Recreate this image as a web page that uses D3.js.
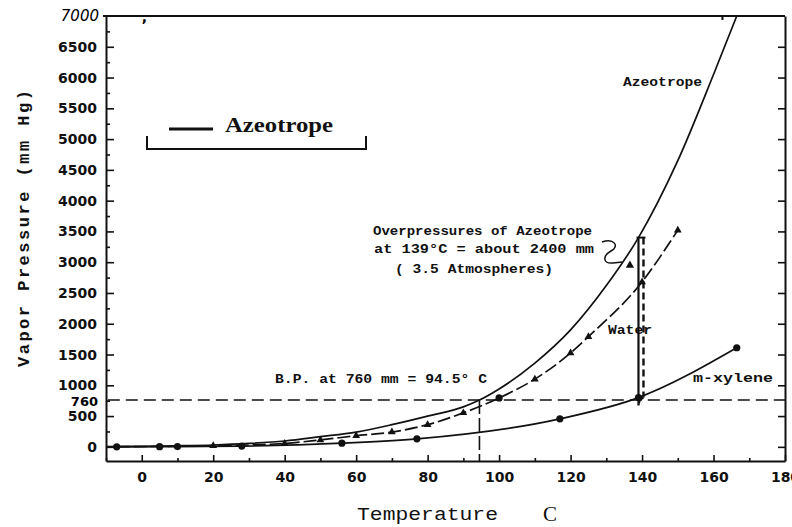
<!DOCTYPE html>
<html>
<head>
<meta charset="utf-8">
<script src="https://cdn.jsdelivr.net/npm/d3@7"></script>
<style>
  html, body { margin: 0; padding: 0; background: #fff; }
  svg { display: block; }
</style>
</head>
<body>
<div id="chart"></div>
<script>
// Azeotrope vapor pressure (solid line, no markers)
const azeoTemp = [-10, 0, 10, 20, 30, 40, 50, 60, 70, 80, 90, 94.5, 100, 110, 120, 130, 139, 150, 160, 166.5];
const azeoPres = [5, 8, 17, 30, 55, 95, 165, 240, 360, 500, 650, 760, 940, 1360, 1900, 2620, 3400, 4650, 6050, 7000];

// Water (dashed line, triangles; the 100 C point is drawn as a dot)
const waterTemp = [-7, 20, 40, 50, 60, 70, 80, 90, 100, 110, 120, 125, 140, 150];
const waterPres = [3, 18, 55, 113, 180, 240, 360, 552, 795, 1100, 1525, 1790, 2680, 3520];
const waterMark = ['', 'tri', 'tri', 'tri', 'tri', 'tri', 'tri', 'tri', 'dot', 'tri', 'tri', 'tri', 'tri', 'tri'];

// m-xylene (solid line, dots)
const xylTemp = [-7, 5, 10, 28, 56, 77, 117, 139, 166.5];
const xylPres = [0, 2, 5, 12, 60, 130, 455, 800, 1610];

// Axis ticks
const yTicks = [0, 500, 1000, 1500, 2000, 2500, 3000, 3500, 4000, 4500, 5000, 5500, 6000, 6500];
const yMinor = [250, 750, 1250, 1750, 2250, 2750, 3250, 3750, 4250, 4750, 5250, 5750, 6250, 6750];
const xTicks = [0, 20, 40, 60, 80, 100, 120, 140, 160, 180];
const xMinor = [-10, 10, 30, 50, 70, 90, 110, 130, 150, 170];

// Annotation values
const bpTemp = 94.5;
const bpPres = 760;
const overTemp = 139;
const overTop = 3400;
const overBottom = 800;

const cfg = {
  width: 792,
  height: 527,
  mono: '"Liberation Mono", "DejaVu Sans Mono", monospace',
  sans: '"DejaVu Sans", sans-serif',
  serif: '"Liberation Serif", serif',
};

const x = d3.scaleLinear().domain([-10, 180]).range([106, 785]);
const y = d3.scaleLinear().domain([-230, 7000]).range([461, 16]);

const svg = d3.select('#chart').append('svg')
  .attr('width', cfg.width)
  .attr('height', cfg.height);

// ---- axes ----
const yAxis = svg.append('g')
  .attr('transform', `translate(${x(-10)},0)`)
  .call(d3.axisLeft(y).tickValues(yTicks).tickSize(-8).tickSizeOuter(0).tickPadding(9)
    .tickFormat(d3.format('d')));
yAxis.append('g')
  .call(d3.axisLeft(y).tickValues(yMinor).tickSize(-4).tickFormat(''))
  .select('.domain').remove();

svg.append('g')
  .attr('transform', `translate(${x(180)},0)`)
  .call(d3.axisRight(y).tickValues(yTicks).tickSize(-7).tickSizeOuter(0).tickFormat(''));

const xAxis = svg.append('g')
  .attr('transform', `translate(0,${y(-230)})`)
  .call(d3.axisBottom(x).tickValues(xTicks).tickSize(-6).tickSizeOuter(0).tickPadding(11));
xAxis.append('g')
  .call(d3.axisBottom(x).tickValues(xMinor).tickSize(-3).tickFormat(''))
  .select('.domain').remove();

svg.selectAll('.domain').attr('stroke', '#111').attr('stroke-width', 2);
svg.selectAll('.tick line').attr('stroke', '#111').attr('stroke-width', 1.6);
svg.selectAll('.tick text')
  .attr('fill', '#111')
  .style('font-family', cfg.sans)
  .style('font-weight', 'bold')
  .style('font-size', '14px');

// top frame line
svg.append('line')
  .attr('x1', x(-10) - 3).attr('x2', x(180))
  .attr('y1', y(7000)).attr('y2', y(7000))
  .attr('stroke', '#111').attr('stroke-width', 2);
svg.append('line')
  .attr('x1', x(162.5)).attr('x2', x(162.5))
  .attr('y1', y(7000)).attr('y2', y(7000) + 4)
  .attr('stroke', '#111').attr('stroke-width', 2);

svg.append('text')
  .attr('x', x(-10) - 7).attr('y', y(7000) + 5)
  .attr('text-anchor', 'end')
  .style('font-family', cfg.sans)
  .style('font-style', 'italic')
  .style('font-size', '15px')
  .text('7000');
svg.append('text')
  .attr('x', x(-10) - 8).attr('y', y(bpPres) + 6)
  .attr('text-anchor', 'end')
  .style('font-family', cfg.sans)
  .style('font-weight', 'bold')
  .style('font-size', '13px')
  .text('760');
svg.append('text')
  .attr('x', x(0)).attr('y', y(6900))
  .style('font-family', cfg.sans)
  .style('font-weight', 'bold')
  .style('font-size', '14px')
  .text(',');

// ---- reference lines ----
svg.append('line')
  .attr('x1', x(-9.5)).attr('x2', x(180))
  .attr('y1', y(bpPres)).attr('y2', y(bpPres))
  .attr('stroke', '#111').attr('stroke-width', 1.6)
  .attr('stroke-dasharray', '12,6');
svg.append('line')
  .attr('x1', x(bpTemp)).attr('x2', x(bpTemp))
  .attr('y1', y(bpPres)).attr('y2', y(-230))
  .attr('stroke', '#111').attr('stroke-width', 1.6)
  .attr('stroke-dasharray', '14,4');

// ---- series ----
const line = d3.line()
  .x((d) => x(d[0]))
  .y((d) => y(d[1]))
  .curve(d3.curveMonotoneX);

const azeo = azeoTemp.map((t, i) => [t, azeoPres[i]]);
const water = waterTemp.map((t, i) => [t, waterPres[i], waterMark[i]]);
const xyl = xylTemp.map((t, i) => [t, xylPres[i]]);

svg.append('path')
  .datum(azeo)
  .attr('fill', 'none')
  .attr('stroke', '#111')
  .attr('stroke-width', 1.7)
  .attr('d', line);

svg.append('path')
  .datum(water)
  .attr('fill', 'none')
  .attr('stroke', '#111')
  .attr('stroke-width', 1.7)
  .attr('stroke-dasharray', '13,4')
  .attr('d', line);

svg.append('path')
  .datum(xyl)
  .attr('fill', 'none')
  .attr('stroke', '#111')
  .attr('stroke-width', 1.7)
  .attr('d', line);

svg.selectAll('path.tri')
  .data(water.filter((d) => d[2] === 'tri'))
  .enter()
  .append('path')
  .attr('class', 'tri')
  .attr('transform', (d) => `translate(${x(d[0])},${y(d[1])})`)
  .attr('d', d3.symbol(d3.symbolTriangle, 26))
  .attr('fill', '#111');

svg.selectAll('circle.dot')
  .data(xyl.concat(water.filter((d) => d[2] === 'dot')))
  .enter()
  .append('circle')
  .attr('class', 'dot')
  .attr('cx', (d) => x(d[0]))
  .attr('cy', (d) => y(d[1]))
  .attr('r', 3.6)
  .attr('fill', '#111');

// ---- overpressure bracket at 139 C ----
svg.append('path')
  .attr('d', `M${x(overTemp)},${y(overTop)} V${y(overBottom) + 8} Q${x(overTemp)},${y(overBottom) + 2} ${x(overTemp) + 5},${y(overBottom)}`)
  .attr('fill', 'none')
  .attr('stroke', '#111')
  .attr('stroke-width', 2.2);
svg.append('line')
  .attr('x1', x(overTemp + 1.4)).attr('x2', x(overTemp + 1.4))
  .attr('y1', y(overTop)).attr('y2', y(overBottom))
  .attr('stroke', '#111').attr('stroke-width', 2.4)
  .attr('stroke-dasharray', '7,4');
svg.append('line')
  .attr('x1', x(overTemp) - 2).attr('x2', x(overTemp + 1.4) + 2)
  .attr('y1', y(overTop)).attr('y2', y(overTop))
  .attr('stroke', '#111').attr('stroke-width', 2);

// curly pointer toward the azeotrope curve
svg.append('path')
  .attr('d', 'M602,242 C614,238 620,246 611,251 C602,256 603,264 613,263 L622,262')
  .attr('fill', 'none')
  .attr('stroke', '#111')
  .attr('stroke-width', 1.5);
svg.append('path')
  .attr('transform', `translate(${x(136.6)},${y(2950)})`)
  .attr('d', d3.symbol(d3.symbolTriangle, 30))
  .attr('fill', '#111');

// ---- text labels ----
function monoText(txt, x0, x1, base, size, weight) {
  svg.append('text')
    .attr('x', x0).attr('y', base)
    .attr('textLength', x1 - x0)
    .attr('lengthAdjust', 'spacingAndGlyphs')
    .style('font-family', cfg.mono)
    .style('font-weight', weight || 'bold')
    .style('font-size', `${size}px`)
    .attr('fill', '#111')
    .text(txt);
}

monoText('Azeotrope', 623, 702, 86, 12);
monoText('Overpressures of Azeotrope', 373, 592, 235, 13);
monoText('at 139°C = about 2400 mm', 374, 594, 253, 13);
monoText('( 3.5 Atmospheres)', 395, 553, 273, 13);
monoText('B.P. at 760 mm = 94.5° C', 275, 487, 383, 13);
monoText('Water', 608, 652, 334, 13);
monoText('m-xylene', 693, 773, 382, 13);

// axis titles
svg.append('text')
  .attr('transform', 'translate(29,367) rotate(-90)')
  .attr('textLength', 277)
  .attr('lengthAdjust', 'spacing')
  .style('font-family', cfg.mono)
  .style('font-weight', 'bold')
  .style('font-size', '17px')
  .attr('fill', '#111')
  .text('Vapor  Pressure  (mm Hg)');

svg.append('text')
  .attr('x', 357).attr('y', 520)
  .attr('textLength', 141)
  .attr('lengthAdjust', 'spacingAndGlyphs')
  .style('font-family', cfg.mono)
  .style('font-size', '19px')
  .attr('fill', '#111')
  .text('Temperature');
svg.append('text')
  .attr('x', 543).attr('y', 521)
  .style('font-family', cfg.serif)
  .style('font-size', '21px')
  .attr('fill', '#111')
  .text('C');

// ---- legend ----
svg.append('line')
  .attr('x1', 169).attr('x2', 213)
  .attr('y1', 129).attr('y2', 129)
  .attr('stroke', '#111').attr('stroke-width', 3);
svg.append('text')
  .attr('x', 225).attr('y', 132)
  .attr('textLength', 108)
  .attr('lengthAdjust', 'spacingAndGlyphs')
  .style('font-family', cfg.serif)
  .style('font-weight', 'bold')
  .style('font-size', '21px')
  .attr('fill', '#111')
  .text('Azeotrope');
svg.append('path')
  .attr('d', 'M147,136 V149 H366 V136')
  .attr('fill', 'none')
  .attr('stroke', '#111')
  .attr('stroke-width', 2);
</script>
</body>
</html>
